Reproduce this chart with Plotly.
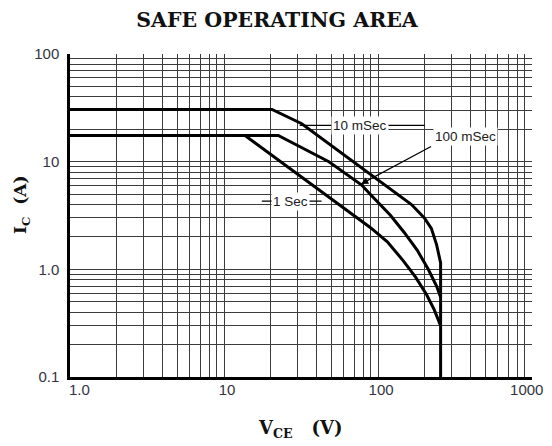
import math
import plotly.graph_objects as go

# ---- data ----
v_10ms = [1.0, 20.5, 32, 108, 165, 200, 222, 240, 252, 255, 255]
i_10ms = [30.5, 30.5, 22.5, 6.2, 4.0, 3.0, 2.4, 1.7, 1.3, 1.15, 0.1]

v_100ms = [1.0, 22.5, 48, 78, 90, 120, 148, 180, 212, 240, 255]
i_100ms = [17.5, 17.5, 10.0, 6.1, 4.9, 3.2, 2.2, 1.5, 1.0, 0.7, 0.55]

v_1s = [1.0, 13.7, 89, 115, 146, 175, 207, 232, 255]
i_1s = [17.5, 17.5, 2.45, 1.8, 1.2, 0.85, 0.58, 0.42, 0.30]

x_tickvals = [1, 10, 100, 1000]
x_ticktext = ["\u00a0\u00a0\u00a0\u00a01.0", "\u00a010", "\u00a0100", "1000\u00a0\u00a0\u00a0"]
y_tickvals = [0.1, 1, 10, 100]
y_ticktext = ["0.1", "1.0", "10", "100"]

# label anchor points (V, A)
lbl_10ms = (76, 21.7)
lbl_100ms = (372, 17.1)
lbl_1s = (27.2, 4.3)
arrow_tail = (226, 14.1)
arrow_tip = (77.6, 6.2)
leader_10ms_v = [31, 201]
leader_1s_v = [17.6, 43]

minor_vals_x = [m * 10 ** d for d in range(0, 3) for m in range(2, 10)]
minor_vals_y = [m * 10 ** d for d in range(-1, 2) for m in range(2, 10)]

fig = go.Figure()

# leader lines
fig.add_trace(go.Scatter(x=leader_10ms_v, y=[lbl_10ms[1]] * 2, mode="lines",
                         line=dict(color="black", width=1.2), hoverinfo="skip", showlegend=False))
fig.add_trace(go.Scatter(x=leader_1s_v, y=[lbl_1s[1]] * 2, mode="lines",
                         line=dict(color="black", width=1.2), hoverinfo="skip", showlegend=False))

for vx, iy in [(v_10ms, i_10ms), (v_100ms, i_100ms), (v_1s, i_1s)]:
    fig.add_trace(go.Scatter(x=vx, y=iy, mode="lines",
                             line=dict(color="black", width=3),
                             showlegend=False))

L = math.log10
lab_font = dict(family="Liberation Sans, Arial, sans-serif", size=13.5, color="#1a1a1a")
# page body has an 8px margin, so the figure is 8px smaller than the window
OFF = 8
W, H = 552 - OFF, 446 - OFF
ml, mr, mt, mb = 70 - OFF, 20, 54 - OFF, 69
pw, ph = W - ml - mr, H - mt - mb

def px_to_paper(px, py):
    px, py = px - OFF, py - OFF
    return (px - ml) / pw, 1 - (py - mt) / ph

ytx, yty = px_to_paper(21, 205)
xtx, xty = px_to_paper(300, 429)

annotations = [
    dict(x=L(lbl_10ms[0]), y=L(lbl_10ms[1]), xref="x", yref="y", text="10 mSec",
         showarrow=False, bgcolor="white", font=lab_font, borderpad=1),
    dict(x=L(lbl_100ms[0]), y=L(lbl_100ms[1]), xref="x", yref="y", text="100 mSec",
         showarrow=False, bgcolor="white", font=lab_font, borderpad=1),
    dict(x=L(lbl_1s[0]), y=L(lbl_1s[1]), xref="x", yref="y", text="1 Sec",
         showarrow=False, bgcolor="white", font=lab_font, borderpad=1),
    dict(x=L(arrow_tip[0]), y=L(arrow_tip[1]), xref="x", yref="y",
         ax=L(arrow_tail[0]), ay=L(arrow_tail[1]), axref="x", ayref="y",
         text="", showarrow=True, arrowhead=2, arrowsize=1.2, arrowwidth=1.2, arrowcolor="black"),
    dict(x=ytx, y=yty, xref="paper", yref="paper", text="<b>I<sub>C</sub>  (A)</b>", showarrow=False,
         xanchor="center", yanchor="middle",
         textangle=-90, font=dict(family="DejaVu Serif, serif", size=17, color="#111")),
    dict(x=xtx, y=xty, xref="paper", yref="paper", text="<b>V<sub>CE</sub>   (V)</b>", showarrow=False,
         xanchor="center", yanchor="middle",
         font=dict(family="DejaVu Serif, serif", size=18, color="#111")),
]

grid_c = "#3c3c3c"
tick_font = dict(family="Liberation Sans, Arial, sans-serif", size=15, color="#333340")
fig.update_layout(
    width=W, height=H,
    margin=dict(l=ml, r=mr, t=mt, b=mb, autoexpand=False),
    paper_bgcolor="white", plot_bgcolor="white",
    title=dict(text="<b>SAFE OPERATING AREA</b>", x=(277 - OFF) / W, xanchor="center",
               y=1 - (20 - OFF) / H, yanchor="middle",
               font=dict(family="DejaVu Serif, serif", size=20.5, color="#111")),
    xaxis=dict(type="log", range=[0, 3], tickvals=x_tickvals, ticktext=x_ticktext,
               showgrid=True, gridcolor=grid_c, gridwidth=1.1,
               minor=dict(tickvals=minor_vals_x, showgrid=True, gridcolor=grid_c, gridwidth=1.1, ticks=""),
               showline=True, linecolor="black", linewidth=2.5, mirror=False,
               ticks="", ticklabelstandoff=-3, ticklabelshift=1, ticklabeloverflow="allow",
               tickfont=tick_font, zeroline=False),
    yaxis=dict(type="log", range=[-1, 2], tickvals=y_tickvals, ticktext=y_ticktext,
               showgrid=True, gridcolor=grid_c, gridwidth=1.1,
               minor=dict(tickvals=minor_vals_y, showgrid=True, gridcolor=grid_c, gridwidth=1.1, ticks=""),
               showline=True, linecolor="black", linewidth=2.5, mirror=False,
               ticks="", ticklabelstandoff=5, ticklabeloverflow="allow",
               tickfont=tick_font, zeroline=False),
    annotations=annotations,
)

fig.write_html("out.html")
